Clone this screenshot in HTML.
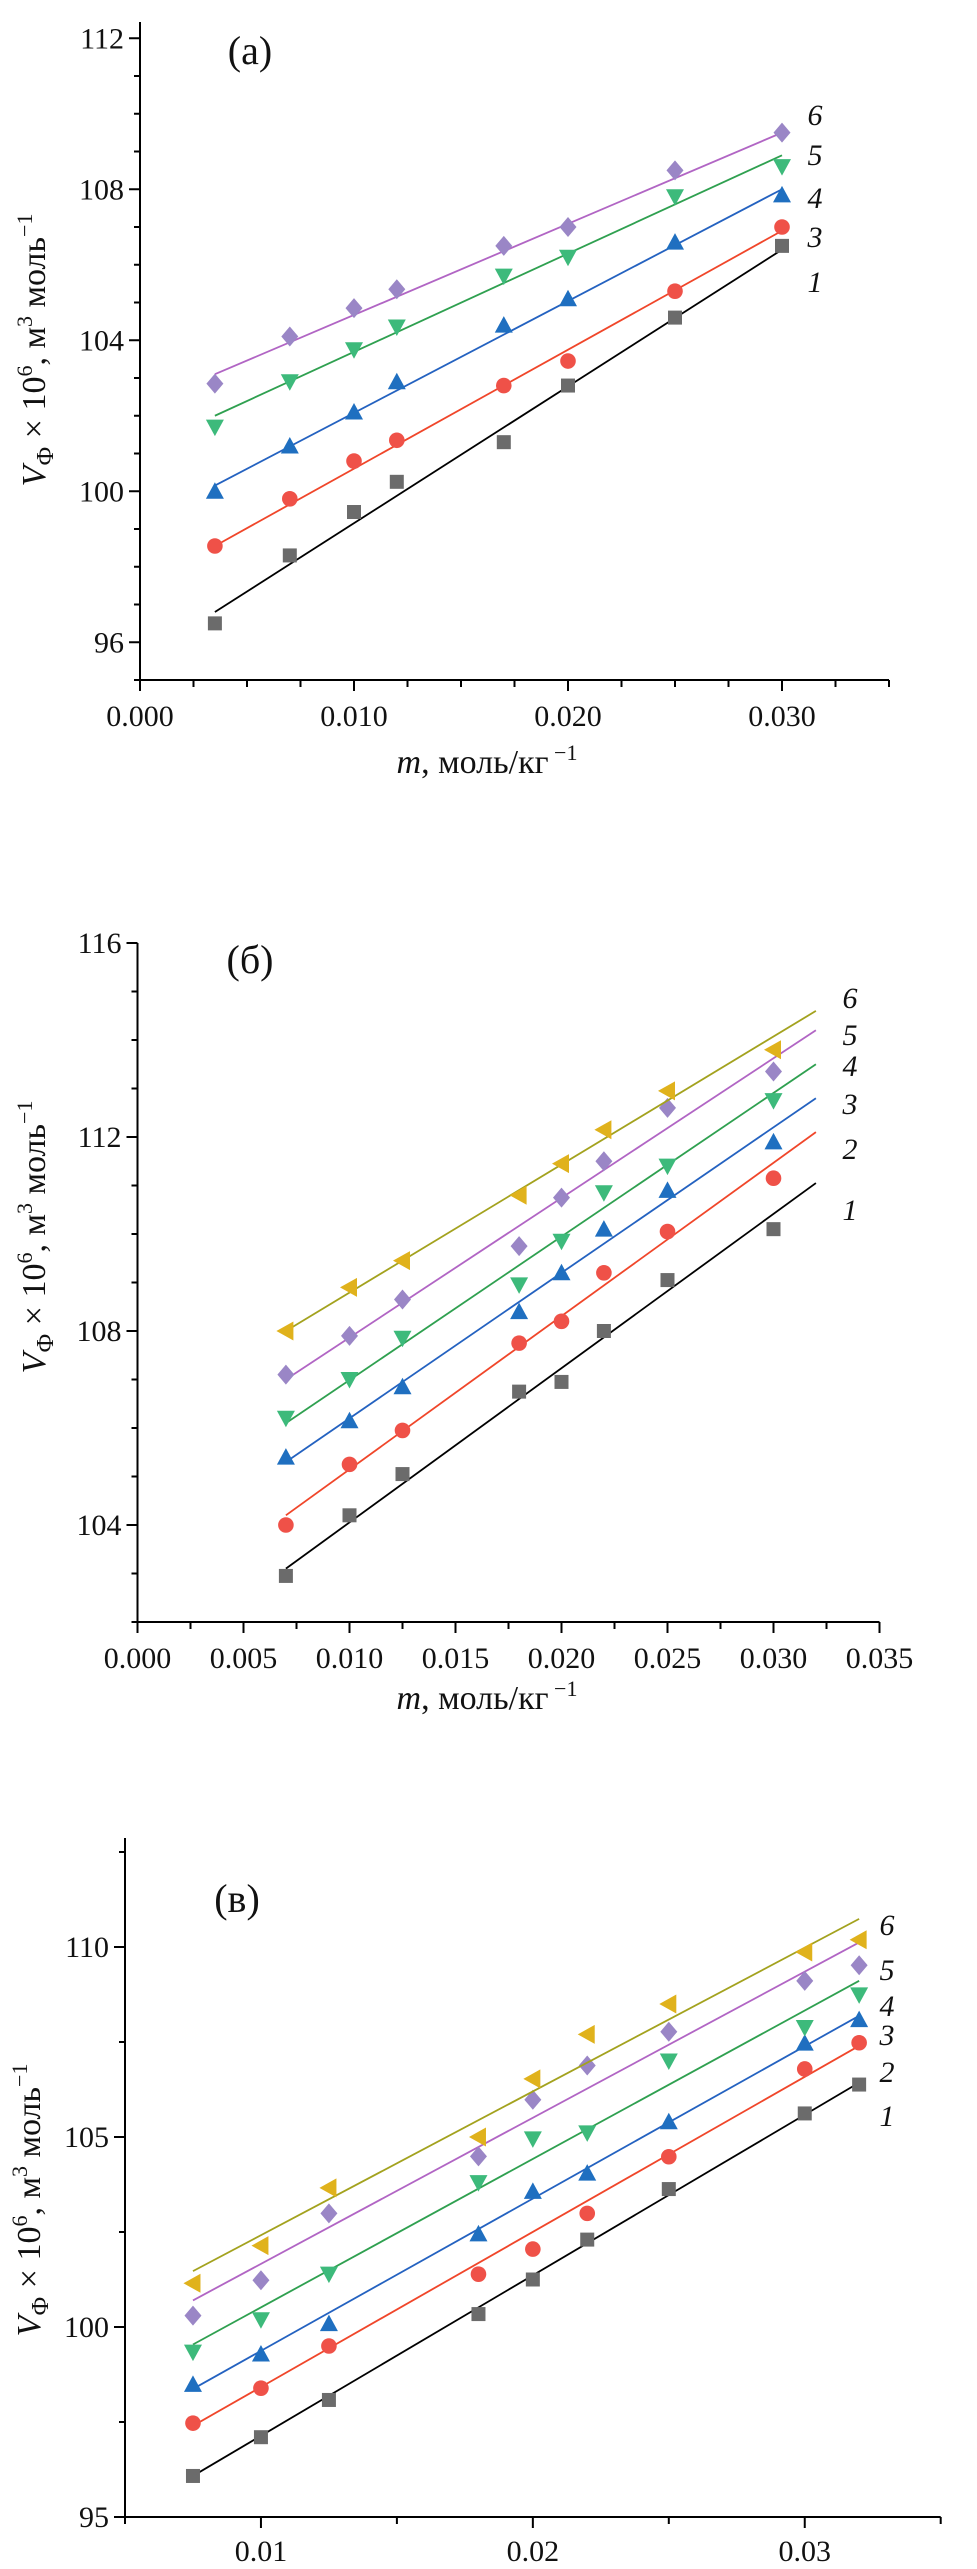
<!DOCTYPE html>
<html><head><meta charset="utf-8">
<style>
html,body{margin:0;padding:0;background:#fff;}
svg{display:block;}
text{font-family:"Liberation Serif",serif;fill:#111;}
</style></head>
<body>
<svg id="fig" width="977" height="2569" viewBox="0 0 977 2569" xmlns="http://www.w3.org/2000/svg"></svg>
<script>
// ---------- Panel (a) data ----------
const aX = [0.0035, 0.007, 0.010, 0.012, 0.017, 0.020, 0.025, 0.030];
const aS1 = [96.5, 98.3, 99.45, 100.25, 101.3, 102.8, 104.6, 106.5];
const aS3 = [98.55, 99.8, 100.8, 101.35, 102.8, 103.45, 105.3, 107.0];
const aS4 = [100.0, 101.2, 102.1, 102.9, 104.4, 105.1, 106.6, 107.85];
const aS5 = [101.7, 102.9, 103.75, 104.35, 105.7, 106.2, 107.8, 108.6];
const aS6 = [102.85, 104.1, 104.85, 105.35, 106.5, 107.0, 108.5, 109.5];
const aFitStart = [96.8, 98.55, 100.15, 102.0, 103.1];
const aFitEnd = [106.4, 106.9, 108.0, 108.9, 109.5];
const aLabels = ["1", "3", "4", "5", "6"];
const aYTicks = [96, 100, 104, 108, 112];
const aXTicks = ["0.000", "0.010", "0.020", "0.030"];

// ---------- Panel (b) data ----------
const bX = [0.007, 0.010, 0.0125, 0.018, 0.020, 0.022, 0.025, 0.030];
const bS1 = [102.95, 104.2, 105.05, 106.75, 106.95, 108.0, 109.05, 110.1];
const bS2 = [104.0, 105.25, 105.95, 107.75, 108.2, 109.2, 110.05, 111.15];
const bS3 = [105.4, 106.15, 106.85, 108.4, 109.2, 110.1, 110.9, 111.9];
const bS4 = [106.2, 107.0, 107.85, 108.95, 109.85, 110.85, 111.4, 112.75];
const bS5 = [107.1, 107.9, 108.65, 109.75, 110.75, 111.5, 112.6, 113.35];
const bS6 = [108.0, 108.9, 109.45, 110.8, 111.45, 112.15, 112.95, 113.8];
const bFitStart = [103.1, 104.2, 105.3, 106.1, 107.0, 108.0];
const bFitEnd = [111.05, 112.1, 112.8, 113.5, 114.2, 114.6];
const bLabels = ["1", "2", "3", "4", "5", "6"];
const bYTicks = [104, 108, 112, 116];
const bXTicks = ["0.000", "0.005", "0.010", "0.015", "0.020", "0.025", "0.030", "0.035"];

// ---------- Panel (в) data ----------
const cX = [0.0075, 0.010, 0.0125, 0.018, 0.020, 0.022, 0.025, 0.030, 0.032];
const cS1 = [96.08, 97.1, 98.08, 100.34, 101.25, 102.3, 103.63, 105.62, 106.38];
const cS2 = [97.47, 98.39, 99.5, 101.39, 102.05, 102.99, 104.48, 106.79, 107.48];
const cS3 = [98.49, 99.29, 100.09, 102.45, 103.57, 104.05, 105.4, 107.47, 108.09];
const cS4 = [99.34, 100.19, 101.39, 103.8, 104.95, 105.11, 107.0, 107.88, 108.74];
const cS5 = [100.3, 101.23, 102.99, 104.49, 105.98, 106.88, 107.77, 109.11, 109.52];
const cS6 = [101.15, 102.14, 103.66, 105.0, 106.53, 107.7, 108.5, 109.87, 110.19];
const cFitStart = [96.08, 97.4, 98.37, 99.54, 100.7, 101.47];
const cFitEnd = [106.43, 107.4, 108.19, 109.11, 110.12, 110.74];
const cLabels = ["1", "2", "3", "4", "5", "6"];
const cYTicks = [95, 100, 105, 110];
const cXTicks = ["0.01", "0.02", "0.03"];

const NS = "http://www.w3.org/2000/svg";
const svg = document.getElementById("fig");
function mk(tag, attrs, parent) {
  const e = document.createElementNS(NS, tag);
  for (const k in attrs) e.setAttribute(k, attrs[k]);
  (parent || svg).appendChild(e);
  return e;
}
const MC = {sq:"#6b6b6b", ci:"#ef5148", up:"#1f6fc0", dn:"#3dba7b", di:"#9a86c6", lt:"#e0b21c"};
const LC = {sq:"#000", ci:"#f0462a", up:"#2462c0", dn:"#2fa050", di:"#b165c4", lt:"#a3a21e"};

function marker(g, type, cx, cy) {
  const c = MC[type]; let e;
  if (type === "sq") e = mk("rect", {x:cx-7, y:cy-7, width:14, height:14, fill:c}, g);
  else if (type === "ci") e = mk("circle", {cx:cx, cy:cy, r:7.8, fill:c}, g);
  else if (type === "up") e = mk("polygon", {points:`${cx},${cy-9} ${cx-9},${cy+7.5} ${cx+9},${cy+7.5}`, fill:c}, g);
  else if (type === "dn") e = mk("polygon", {points:`${cx},${cy+9} ${cx-9},${cy-7.5} ${cx+9},${cy-7.5}`, fill:c}, g);
  else if (type === "di") e = mk("polygon", {points:`${cx},${cy-10} ${cx+8.5},${cy} ${cx},${cy+10} ${cx-8.5},${cy}`, fill:c}, g);
  else e = mk("polygon", {points:`${cx-9.5},${cy} ${cx+7.5},${cy-9.5} ${cx+7.5},${cy+9.5}`, fill:c}, g);
  
  
}

function panel(p) {
  const g = mk("g", {});
  
  
  const sx = v => p.x0 + (v - p.xmin) * p.xs;
  const sy = v => p.y0 - (v - p.ymin) * p.ys;
  const ax = mk("g", {stroke:"#000", "stroke-width":2}, g);
  
  
  mk("line", {x1:p.x0, y1:p.yTop, x2:p.x0, y2:p.y0+1}, ax);
  mk("line", {x1:p.x0-1, y1:p.y0, x2:sx(p.xmax), y2:p.y0}, ax);
  for (let v = p.ymin; v <= p.ymaxTick + 1e-9; v += p.yMinor) {
    const major = p.yTicks.some(t => Math.abs(t - v) < 1e-6);
    mk("line", {x1:p.x0 - (major ? 11 : 6), y1:sy(v), x2:p.x0, y2:sy(v)}, ax);
  }
  for (let v = p.xmin; v <= p.xmax + 1e-9; v += p.xMinor) {
    const major = p.xTicksV.some(t => Math.abs(t - v) < 1e-7);
    mk("line", {x1:sx(v), y1:p.y0, x2:sx(v), y2:p.y0 + (major ? 11 : 7)}, ax);
  }
  p.yTicks.forEach(t => {
    const e = mk("text", {x:p.x0 - 16, y:sy(t) + 10, "font-size":30, "text-anchor":"end"}, g);
    e.textContent = String(t);
    
    
  });
  p.xTicks.forEach((t, i) => {
    const e = mk("text", {x:sx(p.xTicksV[i]), y:p.xLabY + 10, "font-size":30, "text-anchor":"middle"}, g);
    e.textContent = t;
    
    
  });
  p.series.forEach((s, i) => {
    const sg = mk("g", {}, g);
    
    
    const ln = mk("line", {x1:sx(p.xs0), y1:sy(p.fitS[i]), x2:sx(p.xs1), y2:sy(p.fitE[i]), stroke:LC[p.types[i]], "stroke-width":1.8}, sg);
    
    
    s.forEach((v, j) => marker(sg, p.types[i], sx(p.xv[j]), sy(v)));
    const lb = mk("text", {x:p.labX, y:p.labY[i] + 10, "font-size":30, "font-style":"italic", "text-anchor":"middle"}, g);
    lb.textContent = p.labels[i];
    
    
  });
  const pl = mk("text", {x:p.pX, y:p.pY + 13, "font-size":40, "text-anchor":"middle"}, g);
  pl.textContent = p.panelLabel;
  
  
  const yt = mk("text", {x:0, y:0, "font-size":34, "text-anchor":"middle", transform:`translate(${p.ytX},${p.ytY}) rotate(-90)`}, g);
  yt.innerHTML = '<tspan font-style="italic">V</tspan><tspan font-size="24" dy="8">Ф</tspan><tspan dy="-8"> × 10</tspan><tspan font-size="22" dy="-13">6</tspan><tspan dy="13">, м</tspan><tspan font-size="22" dy="-13">3</tspan><tspan dy="13"> моль</tspan><tspan font-size="22" dy="-13">−1</tspan>';
  
  
  if (p.xtY) {
    const xt = mk("text", {x:487, y:p.xtY + 11, "font-size":34, "text-anchor":"middle"}, g);
    xt.innerHTML = '<tspan font-style="italic">m</tspan>, моль/кг<tspan font-size="22" dy="-13"> −1</tspan>';
    
    
  }
}

panel({name:"panel-a", x0:140, y0:680, yTop:22, xmin:0, xmax:0.035, xs:21400, ymin:95, ymaxTick:112, ys:37.75,
  yMinor:1, xMinor:0.0025, yTicks:aYTicks, xTicks:aXTicks, xTicksV:[0,0.01,0.02,0.03], xLabY:716,
  xv:aX, series:[aS1,aS3,aS4,aS5,aS6], types:["sq","ci","up","dn","di"], fitS:aFitStart, fitE:aFitEnd, xs0:0.0035, xs1:0.030,
  labels:aLabels, labX:815, labY:[282,237,198,155,115], panelLabel:"(a)", pX:250, pY:51, ytX:45, ytY:350, xtY:762});

panel({name:"panel-b", x0:137.5, y0:1622, yTop:943, xmin:0, xmax:0.035, xs:21200, ymin:102, ymaxTick:116, ys:48.5,
  yMinor:1, xMinor:0.0025, yTicks:bYTicks, xTicks:bXTicks, xTicksV:[0,0.005,0.01,0.015,0.02,0.025,0.03,0.035], xLabY:1658,
  xv:bX, series:[bS1,bS2,bS3,bS4,bS5,bS6], types:["sq","ci","up","dn","di","lt"], fitS:bFitStart, fitE:bFitEnd, xs0:0.007, xs1:0.032,
  labels:bLabels, labX:850, labY:[1210,1149,1104,1066,1035,998], panelLabel:"(б)", pX:250, pY:960, ytX:45, ytY:1237, xtY:1698});

panel({name:"panel-c", x0:125, y0:2517, yTop:1838, xmin:0.005, xmax:0.035, xs:27190, ymin:95, ymaxTick:112.5, ys:38,
  yMinor:2.5, xMinor:0.005, yTicks:cYTicks, xTicks:cXTicks, xTicksV:[0.01,0.02,0.03], xLabY:2551,
  xv:cX, series:[cS1,cS2,cS3,cS4,cS5,cS6], types:["sq","ci","up","dn","di","lt"], fitS:cFitStart, fitE:cFitEnd, xs0:0.0075, xs1:0.032,
  labels:cLabels, labX:887, labY:[2116,2072,2035,2006,1970,1925], panelLabel:"(в)", pX:237, pY:1899, ytX:40, ytY:2200, xtY:0});
</script>
</body></html>
